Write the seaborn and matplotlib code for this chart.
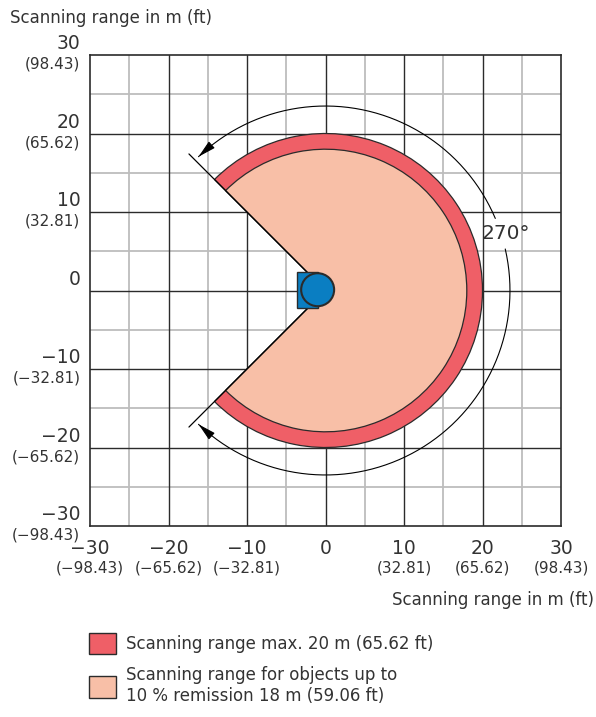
import numpy as np
import matplotlib
matplotlib.use("Agg")
import matplotlib.pyplot as plt
from matplotlib.patches import Wedge, Circle, Rectangle, Patch
import seaborn as sns

# chart values
tick_m = [-30, -20, -10, 0, 10, 20, 30]
tick_ft = ["(−98.43)", "(−65.62)", "(−32.81)", "", "(32.81)", "(65.62)", "(98.43)"]
range_max = 20      # m, red ring
range_10pct = 18    # m, salmon area
field_deg = 270     # aperture angle
legend_labels = [
    "Scanning range max. 20 m (65.62 ft)",
    "Scanning range for objects up to\n10 % remission 18 m (59.06 ft)",
]

RED = "#EF5F67"
SALMON = "#F8BFA7"
BLUE = "#0A7EC2"
DARK = "#2B2B2B"
TXT = "#333333"

sns.set_theme(style="white")
plt.rcParams["font.family"] = ["DejaVu Sans"]

fig = plt.figure(figsize=(5.96, 7.17), dpi=100)
ax = fig.add_axes([90 / 596, (717 - 526) / 717, 471 / 596, 471 / 717])
ax.set_xlim(-30, 30)
ax.set_ylim(-30, 30)
ax.set_aspect("equal")

# grid: gray every 5 m, dark every 10 m
for v in np.arange(-25, 30, 10):
    ax.axvline(v, color="#BDBDBD", lw=1.3, zorder=0)
    ax.axhline(v, color="#BDBDBD", lw=1.3, zorder=0)
for v in tick_m[1:-1]:
    ax.axvline(v, color=DARK, lw=1.0, zorder=0.5)
    ax.axhline(v, color=DARK, lw=1.0, zorder=0.5)
for s in ax.spines.values():
    s.set_color(DARK)
    s.set_linewidth(1.2)

half = field_deg / 2
ax.add_patch(Wedge((0, 0), range_max, -half, half, facecolor=RED,
                   edgecolor=DARK, lw=0.9, zorder=2))
ax.add_patch(Wedge((0, 0), range_10pct, -half, half, facecolor=SALMON,
                   edgecolor=DARK, lw=0.9, zorder=3))

# aperture edge lines
r_edge = 24.6
for a in (half, -half):
    t = np.deg2rad(a)
    ax.plot([0, r_edge * np.cos(t)], [0, r_edge * np.sin(t)], color="black", lw=0.9, zorder=4)

# 270 degree arc with arrows, broken at the label
r_arc = 23.5
for a0, a1 in ((23, half - 1.5), (13, -half + 1.5)):
    t = np.deg2rad(np.linspace(a0, a1, 200))
    sns.lineplot(x=r_arc * np.cos(t), y=r_arc * np.sin(t), sort=False,
                 color="black", lw=0.8, ax=ax, zorder=4)
    te = np.deg2rad(a1)
    tb = np.deg2rad(a1 - np.sign(a1 - a0) * 3)
    ax.annotate("", xy=(r_arc * np.cos(te), r_arc * np.sin(te)),
                xytext=(r_arc * np.cos(tb), r_arc * np.sin(tb)),
                arrowprops=dict(arrowstyle="-|>,head_length=0.9,head_width=0.22",
                                color="black", lw=0.8, shrinkA=0, shrinkB=0),
                zorder=5)
ax.text(23.0, 7.2, "270°", fontsize=14.5, color=TXT, ha="center", va="center", zorder=6)

# sensor
ax.add_patch(Rectangle((-3.6, -2.2), 2.6, 4.5, facecolor=BLUE, edgecolor=DARK, lw=1.0, zorder=6))
ax.add_patch(Circle((-1.0, 0.1), 2.1, facecolor=BLUE, edgecolor=DARK, lw=1.5, zorder=7))

# tick labels (m with ft below)
ax.set_xticks(tick_m)
ax.set_yticks(tick_m)
ax.set_xticklabels([])
ax.set_yticklabels([])
ax.tick_params(length=0)
for m, ft in zip(tick_m, tick_ft):
    lab = str(m).replace("-", "−")
    ax.annotate(lab, xy=(m, 0), xycoords=("data", "axes fraction"), xytext=(0, -16),
                textcoords="offset points", ha="center", va="center", fontsize=13.5, color=TXT)
    ax.annotate(ft, xy=(m, 0), xycoords=("data", "axes fraction"), xytext=(0, -30.5),
                textcoords="offset points", ha="center", va="center", fontsize=11, color=TXT)
    ax.annotate(lab, xy=(0, m), xycoords=("axes fraction", "data"), xytext=(-7, 8),
                textcoords="offset points", ha="right", va="center", fontsize=13.5, color=TXT)
    ax.annotate(ft, xy=(0, m), xycoords=("axes fraction", "data"), xytext=(-7, -6.5),
                textcoords="offset points", ha="right", va="center", fontsize=11, color=TXT)

fig.text(10 / 596, 1 - 18 / 717, "Scanning range in m (ft)", ha="left", va="center",
         fontsize=12, color=TXT)
fig.text(594 / 596, 1 - 600 / 717, "Scanning range in m (ft)", ha="right", va="center",
         fontsize=12, color=TXT)

handles = [Patch(facecolor=RED, edgecolor=DARK, lw=1.0),
           Patch(facecolor=SALMON, edgecolor=DARK, lw=1.0)]
fig.legend(handles, legend_labels, loc="upper left", bbox_to_anchor=(89 / 596, 1 - 633 / 717),
           frameon=False, fontsize=12, handlelength=1.6, handleheight=1.6,
           handletextpad=0.65, borderpad=0, borderaxespad=0, labelspacing=0.7,
           labelcolor=TXT)

fig.savefig("out.png", dpi=100)
